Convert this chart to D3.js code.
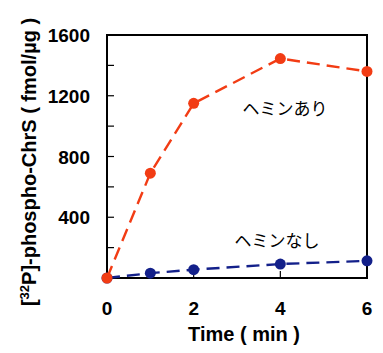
<!DOCTYPE html>
<html>
<head>
<meta charset="utf-8">
<script src="https://cdn.jsdelivr.net/npm/d3@7"></script>
<style>
  body { margin: 0; background: #fff; }
  text { font-family: "Liberation Sans", Arial, sans-serif; }
</style>
</head>
<body>
<div id="container"></div>
<script>
const times = [0, 1, 2, 4, 6];
const withHemin = [0, 690, 1150, 1445, 1360];
const withoutHemin = [0, 32, 55, 92, 113];
const xTicks = [0, 2, 4, 6];
const yTicks = [400, 800, 1200, 1600];
const yMinorTicks = [200, 400, 600, 800, 1000, 1200, 1400];

const w = 383, h = 353;
const svg = d3.select('#container').append('svg')
  .attr('width', w).attr('height', h);

const xScale = d3.scaleLinear().domain([0, 6]).range([107, 367]);
const yScale = d3.scaleLinear().domain([0, 1600]).range([278, 35]);

// frame
svg.append('rect')
  .attr('x', xScale(0)).attr('y', yScale(1600))
  .attr('width', xScale(6) - xScale(0))
  .attr('height', yScale(0) - yScale(1600))
  .attr('fill', 'none').attr('stroke', '#000').attr('stroke-width', 2);

// inward ticks
svg.selectAll('.ytick').data(yMinorTicks).enter().append('line')
  .attr('x1', xScale(0)).attr('x2', xScale(0) + 7)
  .attr('y1', d => yScale(d)).attr('y2', d => yScale(d))
  .attr('stroke', '#000').attr('stroke-width', 1.2);
svg.selectAll('.xtick').data([2, 4]).enter().append('line')
  .attr('x1', d => xScale(d)).attr('x2', d => xScale(d))
  .attr('y1', yScale(0)).attr('y2', yScale(0) - 7)
  .attr('stroke', '#000').attr('stroke-width', 1.2);

// tick labels
svg.selectAll('.ylab').data(yTicks).enter().append('text')
  .attr('x', 90).attr('y', d => yScale(d) + 7)
  .attr('text-anchor', 'end').attr('font-size', 19).attr('font-weight', 'bold')
  .text(d => d);
svg.selectAll('.xlab').data(xTicks).enter().append('text')
  .attr('x', d => xScale(d)).attr('y', 315)
  .attr('text-anchor', 'middle').attr('font-size', 19).attr('font-weight', 'bold')
  .text(d => d);

// axis titles
svg.append('text').attr('x', 244).attr('y', 341)
  .attr('text-anchor', 'middle').attr('font-size', 20).attr('font-weight', 'bold')
  .text('Time ( min )');

const yt = svg.append('text')
  .attr('transform', 'translate(36,162) rotate(-90)')
  .attr('text-anchor', 'middle').attr('font-size', 20).attr('font-weight', 'bold');
yt.append('tspan').text('[');
yt.append('tspan').attr('font-size', 13).attr('dy', -7).text('32');
yt.append('tspan').attr('dy', 7).text('P]-phospho-ChrS ( fmol/\u00b5g )');

// series (blue first so the red marker at 0 sits on top)
const series = [
  { values: withoutHemin, color: '#13208a' },
  { values: withHemin, color: '#f23c14' }
];
const line = d3.line().x((d, i) => xScale(times[i])).y(d => yScale(d));
series.forEach(s => {
  svg.append('path').datum(s.values)
    .attr('d', line).attr('fill', 'none')
    .attr('stroke', s.color).attr('stroke-width', 2.4)
    .attr('stroke-dasharray', '13,7');
  svg.selectAll(null).data(s.values).enter().append('circle')
    .attr('cx', (d, i) => xScale(times[i])).attr('cy', d => yScale(d))
    .attr('r', 5.5).attr('fill', s.color);
});

// series labels
svg.append('text').attr('x', 285).attr('y', 115)
  .attr('text-anchor', 'middle').attr('font-size', 17)
  .style('font-family', '"Noto Sans CJK JP", sans-serif')
  .text('ヘミンあり');
svg.append('text').attr('x', 277).attr('y', 247)
  .attr('text-anchor', 'middle').attr('font-size', 17)
  .style('font-family', '"Noto Sans CJK JP", sans-serif')
  .text('ヘミンなし');
</script>
</body>
</html>
